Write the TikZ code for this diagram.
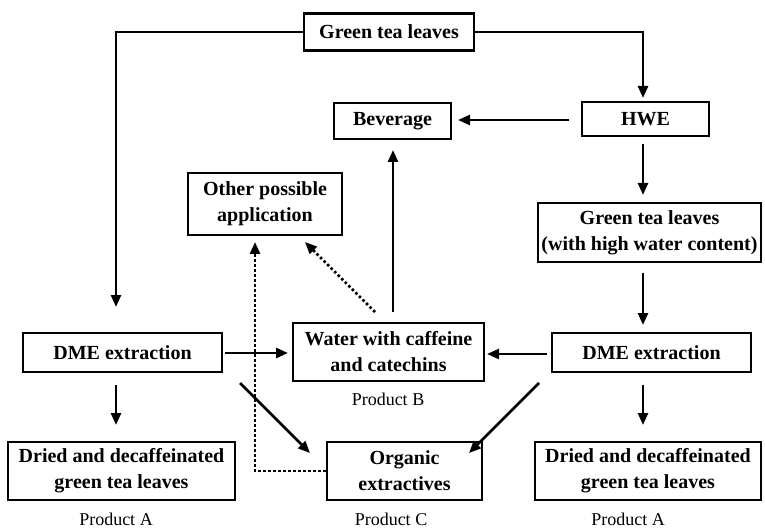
\documentclass[tikz,border=0pt]{standalone}
\usepackage{fontspec}
\setmainfont{Liberation Serif}
\usetikzlibrary{arrows.meta}
\begin{document}
\begin{tikzpicture}[x=1pt,y=-1pt,
  box/.style={draw,line width=2.6pt,align=center,inner sep=0pt,font=\fontsize{20}{26}\selectfont\bfseries},
  lbl/.style={font=\fontsize{18}{20}\selectfont,inner sep=0pt,anchor=base},
  arr/.style={line width=2.6pt,-{Triangle[length=12pt,width=10pt]}},
  dotarr/.style={line width=2.6pt,dash pattern=on 2.6pt off 2.4pt,-{Triangle[length=12pt,width=10pt]}},
  dotln/.style={line width=2.6pt,dash pattern=on 2.6pt off 2.4pt}]
\useasboundingbox (0,0) rectangle (765,529);
\node[box,minimum width=170pt,minimum height=37pt] (gtl) at (389,32) {Green tea leaves};
\node[box,minimum width=127pt,minimum height=34pt] (hwe) at (645.5,119) {HWE};
\node[box,minimum width=117pt,minimum height=36pt] (bev) at (392.5,121) {Beverage};
\node[box,minimum width=154pt,minimum height=62pt] (oth) at (265,204) {Other possible\\application};
\node[box,minimum width=223pt,minimum height=59pt] (ghw) at (649.5,232.5) {Green tea leaves\\(with high water content)};
\node[box,minimum width=199pt,minimum height=39pt] (dmeL) at (122.5,352.5) {DME extraction};
\node[box,minimum width=191pt,minimum height=58pt] (wat) at (388.5,352) {Water with caffeine\\and catechins};
\node[box,minimum width=199pt,minimum height=39pt] (dmeR) at (651.5,352.5) {DME extraction};
\node[box,minimum width=227pt,minimum height=58pt] (drL) at (121.5,471) {Dried and decaffeinated\\green tea leaves};
\node[box,minimum width=155pt,minimum height=58pt] (org) at (404.5,471) {Organic\\extractives};
\node[box,minimum width=226pt,minimum height=58pt] (drR) at (648,471) {Dried and decaffeinated\\green tea leaves};
\node[lbl] (pAL) at (116,525) {Product A};
\node[lbl] (pB) at (388,405) {Product B};
\node[lbl] (pC) at (391,525) {Product C};
\node[lbl] (pAR) at (628,525) {Product A};
% free-end coordinates
\coordinate (c1) at (116,32);
\coordinate (c1e) at (116,307);
\coordinate (c2) at (643,32);
\coordinate (c2e) at (643,98);
\coordinate (c3) at (255,471);
\draw[arr] (gtl.west) -- (c1) -- (c1e);
\draw[arr] (gtl.east) -- (c2) -- (c2e);
\draw[arr] (569,120) -- (458,120);
\draw[arr] (643,144) -- (643,195);
\draw[arr] (643,273) -- (643,325);
\draw[arr] (547,354) -- (487,354);
\draw[arr] (393,312) -- (393,150);
\draw[dotarr] (375,312) -- (305,242);
\draw[arr] (225,353) -- (288,353);
\draw[arr] (116,385) -- (116,425);
\draw[arr] (240,383) -- (310,453);
\draw[arr] (539,383) -- (469,453);
\draw[arr] (643,385) -- (643,425);
\draw[dotarr] (org.west) -- (c3) -- (255,242);
\end{tikzpicture}
\end{document}
